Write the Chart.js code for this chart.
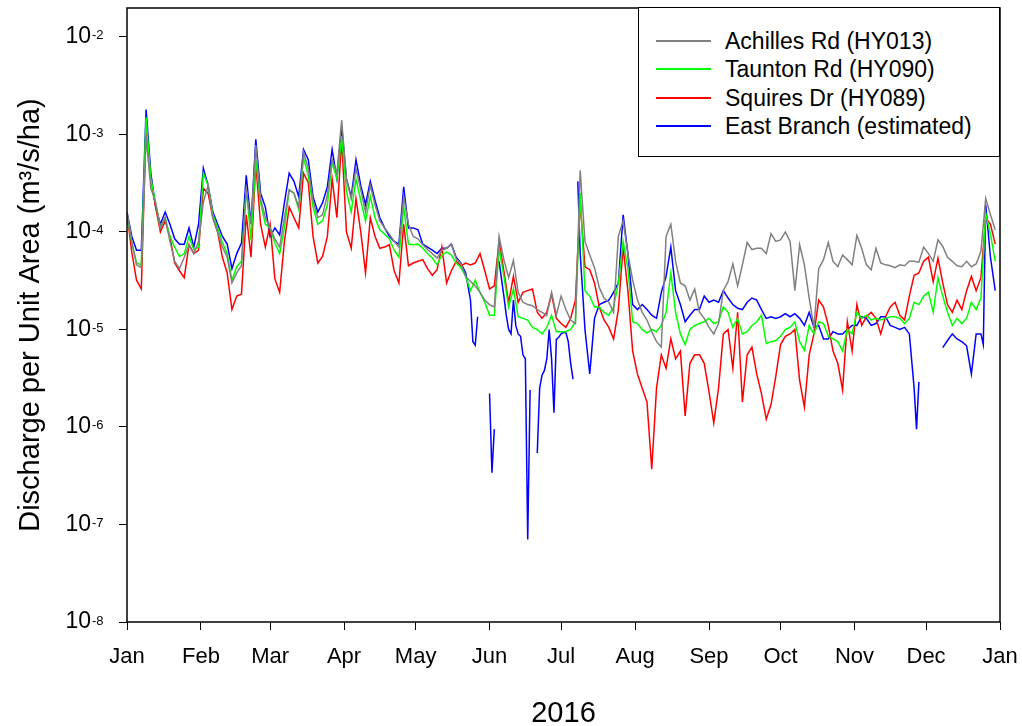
<!DOCTYPE html>
<html>
<head>
<meta charset="utf-8">
<script src="https://cdn.jsdelivr.net/npm/chart.js@4.4.0/dist/chart.umd.min.js"></script>
<style>
  body { margin: 0; background: #fff; }
  #wrap { position: relative; width: 1022px; height: 726px; }
  #chart { position: absolute; left: 0; top: 0; }
  #legend { position: absolute; left: 638px; top: 7px; width: 362px; height: 150px; border: 1.5px solid #000;
            background: #fff; box-sizing: border-box; font-family: 'Liberation Sans', Arial, sans-serif; font-size: 23px; color: #000; }
  .row { position: absolute; left: 0; width: 100%; height: 28px; line-height: 28px; }
  .swatch { position: absolute; left: 17px; top: 13px; width: 55px; height: 2px; }
  .txt { position: absolute; left: 86px; top: 0; white-space: nowrap; }
</style>
</head>
<body>
<div id="wrap">
  <canvas id="chart" width="1022" height="726"></canvas>
  <div id="legend"></div>
</div>
<script>
// day of year 2016 (0 = Jan 1), every second day
const days = Array.from({ length: 183 }, (_, i) => i * 2);

const monthStarts = [0, 31, 60, 91, 121, 152, 182, 213, 244, 274, 305, 335, 366];
const monthNames = ['Jan', 'Feb', 'Mar', 'Apr', 'May', 'Jun', 'Jul', 'Aug', 'Sep', 'Oct', 'Nov', 'Dec', 'Jan'];

const yTicks = [1e-8, 1e-7, 1e-6, 1e-5, 1e-4, 1e-3, 1e-2];
const yExponents = ['-8', '-7', '-6', '-5', '-4', '-3', '-2'];

// Achilles Rd (HY013)
const achilles = [
  1.6e-4, 8e-5, 4.6e-5, 4.3e-5, 9.5e-4, 2.8e-4, 2e-4, 1.1e-4, 1.4e-4, 8e-5,
  5e-5, 4.2e-5, 5.5e-5, 7.4e-5, 6e-5, 8e-5, 2e-4, 3e-4, 1.4e-4, 1e-4,
  7e-5, 5.5e-5, 3e-5, 3.8e-5, 4.5e-5, 2.7e-4, 1.2e-4, 7.8e-4, 2.2e-4, 1.4e-4,
  1.1e-4, 8.5e-5, 7e-5, 1.4e-4, 2.7e-4, 2.5e-4, 1.8e-4, 6.5e-4, 4.5e-4, 2.1e-4,
  1.4e-4, 1.5e-4, 2.4e-4, 5.5e-4, 4e-4, 1.4e-3, 3.5e-4, 2.2e-4, 4.5e-4, 2.7e-4,
  1.6e-4, 3e-4, 1.9e-4, 1.3e-4, 1.1e-4, 9.5e-5, 8e-5, 7e-5, 2.3e-4, 1.2e-4,
  9e-5, 8.5e-5, 7.4e-5, 6.6e-5, 6e-5, 5.4e-5, 6.5e-5, 6.8e-5, 7.5e-5, 5.3e-5,
  4.7e-5, 3.5e-5, 3.1e-5, 2.8e-5, 2.4e-5, 2e-5, 1.8e-5, 1.7e-5, 9e-5, 5.2e-5,
  3.4e-5, 5.1e-5, 2.4e-5, 1.9e-5, 1.8e-5, 1.75e-5, 1.6e-5, 1.5e-5, 1.4e-5, 2.4e-5,
  1.4e-5, 2.2e-5, 1.6e-5, 1.25e-5, 1.15e-5, 4.3e-4, 8e-5, 5.8e-5, 4.3e-5, 2.7e-5,
  2.1e-5, 1.9e-5, 1.5e-5, 9e-5, 1.3e-4, 6e-5, 3.2e-5, 2e-5, 1.5e-5, 1.25e-5,
  9.5e-6, 7.5e-6, 6.6e-6, 9e-5, 1.2e-4, 5e-5, 3e-5, 2.8e-5, 2e-5, 2.6e-5,
  1.5e-5, 1.3e-5, 1.05e-5, 9e-6, 1.15e-5, 2.5e-5, 3.1e-5, 4.7e-5, 2.8e-5, 4.6e-5,
  7.8e-5, 6.6e-5, 6.8e-5, 6.8e-5, 6e-5, 9.6e-5, 8e-5, 8.3e-5, 1e-4, 8e-5,
  2.5e-5, 7.4e-5, 4.6e-5, 2.1e-5, 1.05e-5, 4.2e-5, 5.2e-5, 7.8e-5, 5e-5, 4.4e-5,
  5.8e-5, 5.2e-5, 4.6e-5, 9.2e-5, 6.8e-5, 4.6e-5, 4.1e-5, 6.8e-5, 4.8e-5, 4.6e-5,
  4.5e-5, 4.3e-5, 4.6e-5, 4.5e-5, 5e-5, 5e-5, 4.9e-5, 7e-5, 6e-5, 5e-5,
  8.3e-5, 7.1e-5, 5.5e-5, 5e-5, 4.5e-5, 4.4e-5, 5e-5, 4.4e-5, 4.7e-5, 6.3e-5,
  2.2e-4, 1.5e-4, 1.05e-4
];

// Taunton Rd (HY090)
const taunton = [
  1.5e-4, 7.8e-5, 4.8e-5, 4.6e-5, 1.5e-3, 3.5e-4, 2e-4, 1.1e-4, 1.4e-4, 9e-5,
  7e-5, 5.6e-5, 6e-5, 9e-5, 6.6e-5, 7e-5, 4e-4, 3e-4, 1.5e-4, 1.1e-4,
  7.8e-5, 6e-5, 3.2e-5, 4.4e-5, 5e-5, 2.8e-4, 8.2e-5, 5.5e-4, 2e-4, 1.2e-4,
  1.1e-4, 7.7e-5, 6e-5, 1.1e-4, 2.7e-4, 2.5e-4, 1.7e-4, 5.7e-4, 3.8e-4, 1.8e-4,
  1.2e-4, 1.3e-4, 1.9e-4, 5.2e-4, 3.5e-4, 9.5e-4, 2.6e-4, 1.6e-4, 3.5e-4, 2.1e-4,
  1.3e-4, 2.3e-4, 1.4e-4, 1.05e-4, 9.5e-5, 8.5e-5, 6.5e-5, 5.5e-5, 1.8e-4, 7.5e-5,
  7.4e-5, 7.5e-5, 6.8e-5, 6e-5, 5.4e-5, 4.6e-5, 5.8e-5, 6.2e-5, 5.8e-5, 4.8e-5,
  4.3e-5, 3.5e-5, 2.5e-5, 3.2e-5, 2.4e-5, 1.9e-5, 1.4e-5, 1.4e-5, 6.8e-5, 3.5e-5,
  1.7e-5, 2.6e-5, 1.35e-5, 1.3e-5, 1.25e-5, 1.05e-5, 1e-5, 9e-6, 1.05e-5, 1.4e-5,
  9.5e-6, 9.5e-6, 9.5e-6, 1e-5, 1.2e-5, 2.5e-4, 2.5e-5, 2.2e-5, 1.7e-5, 1.7e-5,
  1.5e-5, 1.4e-5, 1.7e-5, 3e-5, 8e-5, 4.2e-5, 1.2e-5, 1.15e-5, 1e-5, 9.2e-6,
  1e-5, 9.5e-6, 1.1e-5, 1.5e-5, 3.8e-5, 1.5e-5, 9e-6, 7e-6, 1e-5, 1.1e-5,
  1.15e-5, 1.2e-5, 1.3e-5, 1.15e-5, 1.2e-5, 1.7e-5, 1.5e-5, 1.05e-5, 1.3e-5, 9e-6,
  9.5e-6, 1.1e-5, 1.2e-5, 1.4e-5, 7.2e-6, 7.5e-6, 7.7e-6, 8.5e-6, 1e-5, 1.05e-5,
  1.2e-5, 7.5e-6, 6.1e-6, 1.1e-5, 9e-6, 1.2e-5, 1.15e-5, 8.5e-6, 8e-6, 7.5e-6,
  6e-6, 1e-5, 9e-6, 1.5e-5, 1.3e-5, 1.4e-5, 1.25e-5, 1.3e-5, 1.25e-5, 1.3e-5,
  1.35e-5, 1.35e-5, 1.3e-5, 1.15e-5, 1.3e-5, 1.9e-5, 1.8e-5, 2.2e-5, 2.4e-5, 1.5e-5,
  3.4e-5, 2.2e-5, 1.5e-5, 1.1e-5, 1.3e-5, 1.15e-5, 1.3e-5, 1.9e-5, 1.6e-5, 2.1e-5,
  1.55e-4, 9.5e-5, 5e-5
];

// Squires Dr (HY089)
const squires = [
  1.55e-4, 6.2e-5, 3.2e-5, 2.6e-5, 1.2e-3, 3.5e-4, 1.8e-4, 1e-4, 1.3e-4, 9e-5,
  4.8e-5, 4e-5, 3.4e-5, 7.4e-5, 6e-5, 6.5e-5, 2.8e-4, 2.5e-4, 1.4e-4, 1e-4,
  5.5e-5, 3.8e-5, 1.6e-5, 2.2e-5, 2.3e-5, 1.5e-4, 5.5e-5, 5e-4, 1.2e-4, 7e-5,
  1.2e-4, 3.3e-5, 2.4e-5, 8e-5, 1.8e-4, 1.4e-4, 1.1e-4, 4e-4, 3.2e-4, 9e-5,
  4.8e-5, 5.6e-5, 9e-5, 3.5e-4, 1.4e-4, 9e-4, 1e-4, 6.8e-5, 2.2e-4, 1e-4,
  3.8e-5, 1.4e-4, 9e-5, 6.8e-5, 7e-5, 7.4e-5, 4e-5, 3e-5, 1.2e-4, 4.5e-5,
  4.8e-5, 5e-5, 5.2e-5, 4.2e-5, 3.6e-5, 4.1e-5, 7e-5, 3e-5, 4e-5, 5e-5,
  4.5e-5, 4.8e-5, 4.6e-5, 4.8e-5, 6e-5, 4e-5, 2.6e-5, 2.8e-5, 8e-5, 4e-5,
  1.9e-5, 3.5e-5, 1.9e-5, 2.4e-5, 2.5e-5, 2.6e-5, 1.5e-5, 1.3e-5, 1.5e-5, 2.3e-5,
  1.3e-5, 1.15e-5, 1.05e-5, 1.3e-5, 2e-5, 2e-4, 4.4e-5, 4.1e-5, 3e-5, 1.7e-5,
  1.25e-5, 1.05e-5, 8e-6, 1.6e-5, 7e-5, 2.5e-5, 6e-6, 3.5e-6, 2.5e-6, 1.8e-6,
  3.7e-7, 2.5e-6, 5.5e-6, 4e-6, 8e-6, 5e-6, 6e-6, 1.3e-6, 4.5e-6, 5.5e-6,
  5.5e-6, 4.5e-6, 2.3e-6, 1.1e-6, 2.5e-6, 9e-6, 1e-5, 4e-6, 1.5e-5, 1.8e-6,
  5.5e-6, 6.6e-6, 3.5e-6, 2.2e-6, 1.2e-6, 1.7e-6, 3.3e-6, 7e-6, 8.5e-6, 9e-6,
  1e-5, 3e-6, 1.6e-6, 5.5e-6, 9e-6, 2e-5, 1.7e-5, 1.1e-5, 6e-6, 4.5e-6,
  2.4e-6, 1.2e-5, 6e-6, 1.8e-5, 1.1e-5, 1.35e-5, 1.5e-5, 1.3e-5, 9e-6, 1.35e-5,
  1.7e-5, 1.9e-5, 1.4e-5, 1.25e-5, 2.2e-5, 3.6e-5, 3.8e-5, 5e-5, 5.5e-5, 3.1e-5,
  5.4e-5, 3e-5, 1.8e-5, 1.5e-5, 2e-5, 1.6e-5, 2.5e-5, 3.5e-5, 2.5e-5, 3.4e-5,
  1.4e-4, 1.2e-4, 7.5e-5
];

// East Branch (estimated): own day list, null = no estimate (gap in line)
const eastDays = [
  0, 2, 4, 6, 8, 10, 12, 14, 16, 18, 20, 22, 24, 26, 28, 30, 32, 34, 36, 38,
  40, 42, 44, 46, 48, 50, 52, 54, 56, 58, 60, 62, 64, 66, 68, 70, 72, 74, 76, 78,
  80, 82, 84, 86, 88, 90, 92, 94, 96, 98, 100, 102, 104, 106, 108, 110, 112, 114, 116, 118,
  120, 122, 124, 126, 128, 130, 132, 134, 136, 138,
  140, 142, 144, 145, 146, 147, 148,
  152, 153, 154, 155,
  156, 158, 159, 160, 161, 162, 163, 164, 165, 166, 167, 168, 169, 170,
  172, 173, 174, 175, 176, 177, 178, 179, 180, 181, 182, 183, 184, 185, 186, 187, 188,
  189, 190, 191, 192,
  194, 196, 198, 200, 202, 204, 206, 208, 210, 212,
  214, 216, 218, 220, 222, 224, 226, 228, 230, 232,
  234, 236, 238, 240, 242, 244, 246, 248, 250, 252,
  254, 256, 258, 260, 262, 264, 266, 268, 270, 272,
  274, 276, 278, 280, 282, 284, 286, 288, 290, 292,
  294, 296, 298, 300, 302, 304, 306, 308, 310, 312,
  314, 316, 318, 320, 322, 324, 326, 328,
  330, 331, 332, 334,
  342, 344, 346, 348, 350, 352, 354, 356, 358, 359, 360, 362, 364
];
const eastBranch = [
  1.6e-4, 9e-5, 6.5e-5, 6.5e-5, 1.8e-3, 4e-4, 1.8e-4, 1.2e-4, 1.6e-4, 1.2e-4, 8.5e-5, 7.5e-5, 7.5e-5, 1.1e-4, 7e-5, 1.2e-4, 4.5e-4, 3e-4, 1.6e-4, 1.2e-4,
  9e-5, 7.5e-5, 4.2e-5, 6e-5, 7.7e-5, 3.8e-4, 1.2e-4, 8.9e-4, 2.5e-4, 1.8e-4, 9e-5, 1.1e-4, 9.3e-5, 2e-4, 4e-4, 3.3e-4, 2.3e-4, 7e-4, 5.5e-4, 2.3e-4,
  1.6e-4, 2e-4, 2.9e-4, 7e-4, 3.5e-4, 1.2e-3, 3.5e-4, 2.3e-4, 5.5e-4, 3e-4, 1.9e-4, 3.3e-4, 2.1e-4, 1.4e-4, 1.1e-4, 9e-5, 8e-5, 7.5e-5, 2.9e-4, 1.1e-4,
  1.1e-4, 1.05e-4, 7.5e-5, 7e-5, 6.5e-5, 6e-5, 6.8e-5, 6.8e-5, 7.5e-5, 5.5e-5,
  4.8e-5, 3.8e-5, 2e-5, 7.5e-6, 6.9e-6, 1.35e-5, null,
  2.2e-6, 3.4e-7, 9.5e-7, null,
  5e-5, 2.2e-5, 1.4e-5, 1e-5, 9e-6, 2e-5, 1.1e-5, 9e-6, 8.5e-6, 5.5e-6, 5e-6, 7e-8, 2.4e-6, null,
  5.4e-7, 2.5e-6, 3.4e-6, 3.8e-6, 5e-6, 1e-5, 5e-6, 1.4e-6, 7.9e-6, 8.3e-6, 9e-6, 9.3e-6, 9.3e-6, 7.5e-6, 4.5e-6, 3.1e-6, null,
  3.3e-4, 6e-5, 2.5e-5, 1e-5,
  3.5e-6, 1.3e-5, 1.8e-5, 1.9e-5, 2e-5, 2.4e-5, 3e-5, 1.5e-4, 6e-5, 1.8e-5,
  1.6e-5, 1.8e-5, 1.6e-5, 1.4e-5, 1.3e-5, 2.4e-5, 3.5e-5, 7e-5, 2.5e-5, 1.8e-5,
  1.2e-5, 1.4e-5, 1.6e-5, 1.6e-5, 2.2e-5, 1.9e-5, 2e-5, 1.9e-5, 2.5e-5, 2.1e-5,
  1.8e-5, 1.65e-5, 1.6e-5, 1.9e-5, 2.1e-5, 2e-5, 1.6e-5, 1.3e-5, 1.35e-5, 1.3e-5,
  1.35e-5, 1.45e-5, 1.35e-5, 1.45e-5, 1.3e-5, 1.1e-5, 1.5e-5, 1.05e-5, 1.1e-5, 8e-6,
  8e-6, 9.5e-6, 9e-6, 9e-6, 1e-5, 1.1e-5, 1.1e-5, 1.35e-5, 1.3e-5, 1.1e-5,
  1.15e-5, 1.35e-5, 1.35e-5, 1.1e-5, 1.05e-5, 1e-5, 1.05e-5, 9e-6,
  2.5e-6, 9.5e-7, 2.9e-6, null,
  6.5e-6, 7.7e-6, 9e-6, 8e-6, 7.5e-6, 6.8e-6, 3.5e-6, 9e-6, 9e-6, 7e-6, 1.9e-4, 5.5e-5, 2.5e-5
];

const FONT = "'Liberation Sans', Arial, sans-serif";

function pts(xs, ys) {
  return xs.map((x, i) => ({ x: x, y: ys[i] }));
}

// box round the plot and the small exponents of the y labels
const frameAndExponents = {
  id: 'frameAndExponents',
  afterDraw(chart) {
    const { ctx, chartArea: a, scales } = chart;
    ctx.save();
    ctx.strokeStyle = '#000';
    ctx.lineWidth = 1.5;
    ctx.strokeRect(a.left, a.top, a.right - a.left, a.bottom - a.top);
    ctx.fillStyle = '#000';
    ctx.font = '13px ' + FONT;
    ctx.textAlign = 'left';
    ctx.textBaseline = 'alphabetic';
    yTicks.forEach((v, i) => {
      const py = scales.y.getPixelForValue(v);
      ctx.fillText(yExponents[i], 92, py + 2.5);
    });
    ctx.restore();
  }
};

const chart = new Chart(document.getElementById('chart'), {
  type: 'line',
  data: {
    datasets: [
      { label: 'Achilles Rd (HY013)', data: pts(days, achilles), borderColor: '#808080' },
      { label: 'Taunton Rd (HY090)', data: pts(days, taunton), borderColor: '#00ff00' },
      { label: 'Squires Dr (HY089)', data: pts(days, squires), borderColor: '#ff0000' },
      { label: 'East Branch (estimated)', data: pts(eastDays, eastBranch), borderColor: '#0000ff' }
    ]
  },
  options: {
    responsive: false,
    animation: false,
    devicePixelRatio: 1,
    spanGaps: false,
    layout: { padding: { left: 0, right: 22, top: 8, bottom: 0 } },
    elements: {
      point: { radius: 0 },
      line: { borderWidth: 1.5, tension: 0, fill: false }
    },
    plugins: { legend: { display: false }, tooltip: { enabled: false } },
    scales: {
      x: {
        type: 'linear',
        min: 0,
        max: 366,
        afterBuildTicks: s => { s.ticks = monthStarts.map(v => ({ value: v })); },
        afterFit: s => { s.height = 104; s.paddingLeft = 0; s.paddingRight = 0; },
        ticks: {
          callback: v => monthNames[monthStarts.indexOf(v)],
          font: { family: FONT, size: 22 },
          color: '#000',
          padding: 14,
          maxRotation: 0,
          autoSkip: false
        },
        grid: { drawOnChartArea: false, drawTicks: true, tickLength: 8, color: '#000', lineWidth: 1 },
        border: { display: false },
        title: { display: true, text: '2016', font: { family: FONT, size: 29, lineHeight: 0.8 }, color: '#000', padding: 0 }
      },
      y: {
        type: 'logarithmic',
        min: 1e-8,
        max: 1.98e-2,
        afterBuildTicks: s => { s.ticks = yTicks.map(v => ({ value: v })); },
        afterFit: s => { s.width = 127; s.paddingTop = 0; s.paddingBottom = 0; },
        ticks: {
          callback: () => '10',
          font: { family: FONT, size: 23 },
          color: '#000',
          padding: 28
        },
        grid: { drawOnChartArea: false, drawTicks: true, tickLength: 8, color: '#000', lineWidth: 1 },
        border: { display: false },
        title: {
          display: true,
          text: 'Discharge per Unit Area (m³/s/ha)',
          font: { family: FONT, size: 29 },
          color: '#000',
          padding: { top: 14, bottom: 0 }
        }
      }
    }
  },
  plugins: [frameAndExponents]
});

// legend box, built from the datasets
const legendBox = document.getElementById('legend');
chart.data.datasets.forEach((ds, i) => {
  const row = document.createElement('div');
  row.className = 'row';
  row.style.top = (19 + i * 28.4) + 'px';
  row.innerHTML = '<span class="swatch" style="background:' + ds.borderColor + '"></span><span class="txt">' + ds.label + '</span>';
  legendBox.appendChild(row);
});
</script>
</body>
</html>
